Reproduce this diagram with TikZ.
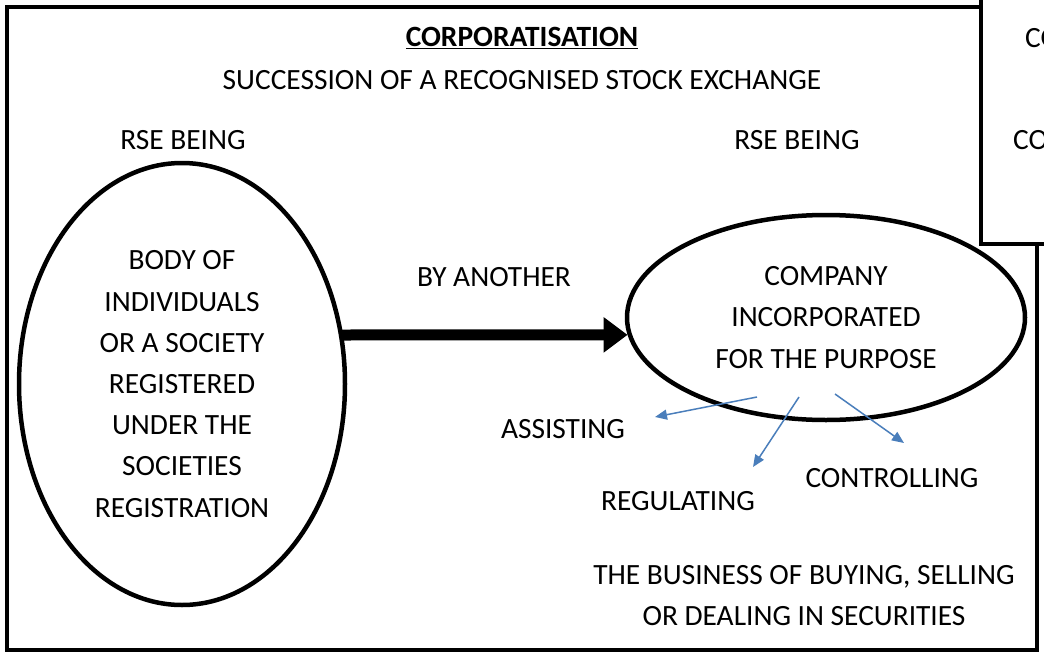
\documentclass[tikz,border=0pt]{standalone}
\usepackage{fontspec}
\setmainfont{Carlito}
\usetikzlibrary{arrows.meta,shapes.geometric,positioning}
\definecolor{arblue}{RGB}{74,126,187}

\begin{document}
\begin{tikzpicture}[x=1pt, y=-1pt, every node/.style={font=\fontsize{29.4}{41.2}\selectfont, inner sep=0pt}, oval/.style={ellipse, draw, line width=4.5pt, align=center}, bigar/.style={line width=11pt, -{Triangle[length=24pt,width=34pt]}}, ar/.style={arblue, line width=1.5pt, -{Triangle[length=12pt,width=10pt]}}]
          \useasboundingbox (0,0) rectangle (1044,653);
          \draw[line width=4pt] (7,7) rectangle (1037,650);
          \draw[line width=4pt, fill=white] (981,-20) rectangle (1080,244);
          \node[anchor=west] (co1) at (1025,38) {CO};
          \node[anchor=west] (co2) at (1013,140) {CO};

          \node (title) at (522,38) {\underline{\textbf{CORPORATISATION}}};
          \node (succ) at (522,80) {SUCCESSION OF A RECOGNISED STOCK EXCHANGE};
          \node (rse1) at (183,140) {RSE BEING};
          \node (rse2) at (797,140) {RSE BEING};

          \node[oval, minimum width=326pt, minimum height=442pt] (body) at (182,384) {BODY OF\\INDIVIDUALS\\OR A SOCIETY\\REGISTERED\\UNDER THE\\SOCIETIES\\REGISTRATION};
          \node[oval, minimum width=398pt, minimum height=205pt] (comp) at (826,317.5) {COMPANY\\INCORPORATED\\FOR THE PURPOSE};
          \node (by) at (494,277) {BY ANOTHER};

          \node (assist) at (563,429) {ASSISTING};
          \node (regul) at (678,501) {REGULATING};
          \node (contr) at (892,478) {CONTROLLING};
          \node[align=center] (biz) at (804,595.5) {THE BUSINESS OF BUYING, SELLING\\OR DEALING IN SECURITIES};

          \coordinate (s0) at (342,335);
          \coordinate (s1) at (757,397);
          \coordinate (e1) at (655,417);
          \coordinate (s2) at (799,397);
          \coordinate (e2) at (753,467);
          \coordinate (s3) at (835,394);
          \coordinate (e3) at (904,443);

          \draw[bigar] (s0) -- (comp.185);
          \draw[ar] (s1) -- (e1);
          \draw[ar] (s2) -- (e2);
          \draw[ar] (s3) -- (e3);
\end{tikzpicture}
\end{document}
